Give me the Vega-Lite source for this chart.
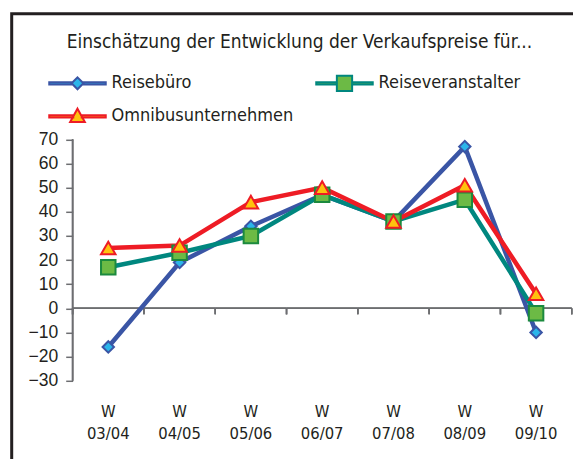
{
  "$schema": "https://vega.github.io/schema/vega-lite/v6.json",
  "width": 575,
  "height": 458.7,
  "autosize": {"type": "none"},
  "padding": {"left": 11.7, "top": 13.8, "right": 0, "bottom": 0},
  "background": "white",
  "config": {
    "view": {"stroke": "#231F20", "strokeWidth": 3}
  },
  "title": {
    "text": "Einschätzung der Entwicklung der Verkaufspreise für...",
    "frame": "group",
    "anchor": "start",
    "orient": "top",
    "offset": 0,
    "dx": 55,
    "dy": 53,
    "baseline": "alphabetic",
    "font": "DejaVu Sans Condensed, Liberation Sans",
    "fontSize": 19,
    "fontWeight": "normal",
    "color": "#231F20"
  },
  "data": {
    "values": [
      {"season": "W 03/04", "series": "Reisebüro", "value": -16},
      {"season": "W 04/05", "series": "Reisebüro", "value": 19},
      {"season": "W 05/06", "series": "Reisebüro", "value": 34},
      {"season": "W 06/07", "series": "Reisebüro", "value": 47},
      {"season": "W 07/08", "series": "Reisebüro", "value": 36},
      {"season": "W 08/09", "series": "Reisebüro", "value": 67},
      {"season": "W 09/10", "series": "Reisebüro", "value": -10},
      {"season": "W 03/04", "series": "Reiseveranstalter", "value": 17},
      {"season": "W 04/05", "series": "Reiseveranstalter", "value": 23},
      {"season": "W 05/06", "series": "Reiseveranstalter", "value": 30},
      {"season": "W 06/07", "series": "Reiseveranstalter", "value": 47},
      {"season": "W 07/08", "series": "Reiseveranstalter", "value": 36},
      {"season": "W 08/09", "series": "Reiseveranstalter", "value": 45},
      {"season": "W 09/10", "series": "Reiseveranstalter", "value": -2},
      {"season": "W 03/04", "series": "Omnibusunternehmen", "value": 25},
      {"season": "W 04/05", "series": "Omnibusunternehmen", "value": 26},
      {"season": "W 05/06", "series": "Omnibusunternehmen", "value": 44},
      {"season": "W 06/07", "series": "Omnibusunternehmen", "value": 50},
      {"season": "W 07/08", "series": "Omnibusunternehmen", "value": 36},
      {"season": "W 08/09", "series": "Omnibusunternehmen", "value": 51},
      {"season": "W 09/10", "series": "Omnibusunternehmen", "value": 6}
    ]
  },
  "resolve": {
    "scale": {"stroke": "independent", "fill": "independent", "shape": "independent"}
  },
  "layer": [
    {
      "mark": {"type": "rect", "filled": false, "stroke": "#6D6E71", "strokeWidth": 1.5},
      "encoding": {
        "x": {
          "field": "season", "type": "nominal",
          "scale": {"type": "band", "domain": ["W 03/04", "W 04/05", "W 05/06", "W 06/07", "W 07/08", "W 08/09", "W 09/10"], "paddingInner": 0, "paddingOuter": 0.532, "align": 0.803},
          "axis": {"orient": "bottom", "offset": -70.5, "domain": false, "ticks": false, "labelExpr": "split(datum.label, ' ')", "labelFont": "DejaVu Sans Condensed, Liberation Sans", "labelFontSize": 16.5, "labelLineHeight": 22, "labelPadding": 2, "labelAngle": 0, "labelColor": "#231F20", "title": null, "grid": false}
        },
        "y": {
          "datum": 0, "type": "quantitative",
          "scale": {"domain": [-68, 122], "nice": false, "zero": false},
          "axis": {"orient": "left", "offset": -61, "values": [-30, -20, -10, 0, 10, 20, 30, 40, 50, 60, 70], "domain": false, "tickSize": 7, "tickColor": "#6D6E71", "tickWidth": 1.5, "labelFont": "Liberation Sans", "labelFontSize": 17.5, "labelPadding": 8, "labelColor": "#231F20", "title": null, "grid": false}
        },
        "y2": {"datum": 0}
      }
    },
    {
      "transform": [{"filter": "datum.season === 'W 03/04'"}],
      "mark": {"type": "rule", "stroke": "#6D6E71", "strokeWidth": 1.5},
      "encoding": {
        "x": {"field": "season", "type": "nominal", "bandPosition": 0, "axis": {"title": null}},
        "y": {"datum": -30, "type": "quantitative", "axis": {"title": null}},
        "y2": {"datum": 70}
      }
    },
    {
      "mark": {"type": "rule", "stroke": "#6D6E71", "strokeWidth": 1.5},
      "encoding": {
        "x": {"field": "season", "type": "nominal", "bandPosition": 0, "axis": {"title": null}},
        "y": {"datum": 0, "type": "quantitative", "axis": {"title": null}},
        "y2": {"datum": -2.5}
      }
    },
    {
      "transform": [{"filter": "datum.season === 'W 09/10'"}],
      "mark": {"type": "rule", "stroke": "#6D6E71", "strokeWidth": 1.5},
      "encoding": {
        "x": {"field": "season", "type": "nominal", "bandPosition": 1, "axis": {"title": null}},
        "y": {"datum": 0, "type": "quantitative", "axis": {"title": null}},
        "y2": {"datum": -2.5}
      }
    },
    {
      "mark": {"type": "line", "strokeWidth": 4.5},
      "encoding": {
        "x": {"field": "season", "type": "nominal", "axis": {"title": null}},
        "y": {"field": "value", "type": "quantitative", "axis": {"title": null}},
        "stroke": {
          "field": "series", "type": "nominal",
          "scale": {"domain": ["Reisebüro", "Reiseveranstalter", "Omnibusunternehmen"], "range": ["#3A55A5", "#00877F", "#EE1C25"]},
          "legend": null
        }
      }
    },
    {
      "mark": {"type": "point", "filled": true, "strokeWidth": 2, "opacity": 1},
      "encoding": {
        "x": {"field": "season", "type": "nominal", "axis": {"title": null}},
        "y": {"field": "value", "type": "quantitative", "axis": {"title": null}},
        "shape": {"field": "series", "type": "nominal", "scale": {"domain": ["Reisebüro", "Reiseveranstalter", "Omnibusunternehmen"], "range": ["diamond", "square", "triangle-up"]}, "legend": null},
        "fill": {"field": "series", "type": "nominal", "scale": {"domain": ["Reisebüro", "Reiseveranstalter", "Omnibusunternehmen"], "range": ["#2BB5EA", "#6CBA45", "#FFC20E"]}, "legend": null},
        "stroke": {"field": "series", "type": "nominal", "scale": {"domain": ["Reisebüro", "Reiseveranstalter", "Omnibusunternehmen"], "range": ["#3A55A5", "#1B8A3E", "#EE1C25"]}, "legend": null},
        "size": {"condition": {"test": "datum.series === 'Reisebüro'", "value": 130}, "value": 210}
      }
    },
    {
      "mark": {"type": "point", "filled": true, "opacity": 0},
      "encoding": {
        "x": {"field": "season", "type": "nominal", "axis": {"title": null}},
        "y": {"field": "value", "type": "quantitative", "axis": {"title": null}},
        "shape": {
          "field": "series", "type": "nominal",
          "scale": {"domain": ["Reisebüro", "Omnibusunternehmen", "Reiseveranstalter"], "range": [
            "M-1,-0.04H-0.2V0.04H-1Z M0.2,-0.04H1V0.04H0.2Z M0,-0.21L0.21,0L0,0.21L-0.21,0Z",
            "M-1,-0.04H-0.15V0.04H-1Z M0.15,-0.04H1V0.04H0.15Z M0,-0.27L0.26,0.2L-0.26,0.2Z",
            "M-1,-0.04H-0.27V0.04H-1Z M0.27,-0.04H1V0.04H0.27Z M-0.27,-0.27H0.27V0.27H-0.27Z"
          ]},
          "legend": {"orient": "none", "legendX": 36.3, "legendY": 53, "columns": 2, "columnPadding": 21, "rowPadding": 0, "clipHeight": 33, "symbolSize": 3192, "symbolStrokeWidth": 2, "symbolOpacity": 1, "labelFont": "DejaVu Sans Condensed, Liberation Sans", "labelFontSize": 18, "labelOffset": 4.5, "labelColor": "#231F20", "labelLimit": 300, "title": null, "padding": 0}
        },
        "fill": {
          "field": "series", "type": "nominal",
          "scale": {"domain": ["Reisebüro", "Omnibusunternehmen", "Reiseveranstalter"], "range": ["#2BB5EA", "#FFC20E", "#6CBA45"]},
          "legend": {"orient": "none", "legendX": 36.3, "legendY": 53, "columns": 2, "columnPadding": 21, "rowPadding": 0, "clipHeight": 33, "symbolSize": 3192, "symbolStrokeWidth": 2, "symbolOpacity": 1, "labelFont": "DejaVu Sans Condensed, Liberation Sans", "labelFontSize": 18, "labelOffset": 4.5, "labelColor": "#231F20", "labelLimit": 300, "title": null, "padding": 0}
        },
        "stroke": {
          "field": "series", "type": "nominal",
          "scale": {"domain": ["Reisebüro", "Omnibusunternehmen", "Reiseveranstalter"], "range": ["#3A55A5", "#EE1C25", "#00877F"]},
          "legend": {"orient": "none", "legendX": 36.3, "legendY": 53, "columns": 2, "columnPadding": 21, "rowPadding": 0, "clipHeight": 33, "symbolSize": 3192, "symbolStrokeWidth": 2, "symbolOpacity": 1, "labelFont": "DejaVu Sans Condensed, Liberation Sans", "labelFontSize": 18, "labelOffset": 4.5, "labelColor": "#231F20", "labelLimit": 300, "title": null, "padding": 0}
        }
      }
    }
  ]
}
